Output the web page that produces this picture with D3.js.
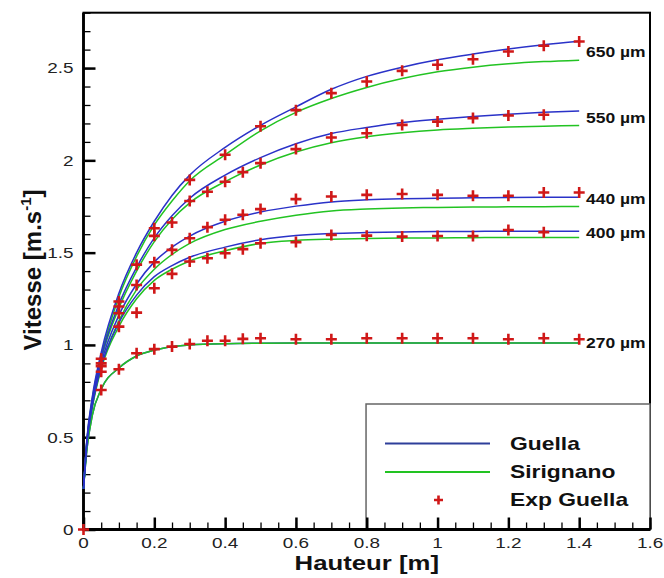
<!DOCTYPE html>
<html><head><meta charset="utf-8">
<script src="https://cdn.jsdelivr.net/npm/d3@7/dist/d3.min.js"></script>
<style>body{margin:0;background:#fff}svg{display:block}</style>
</head><body>
<svg id="chart" width="664" height="578"></svg>
<script>
// ---------- data ----------
const xTicks = [0, 0.2, 0.4, 0.6, 0.8, 1, 1.2, 1.4, 1.6];
const yTicks = [0, 0.5, 1, 1.5, 2, 2.5];
const sizes = ["650 µm", "550 µm", "440 µm", "400 µm", "270 µm"];
const labelPos = [2.59, 2.229, 1.789, 1.605, 1.009];

const modelX = [0, 0.01, 0.025, 0.05, 0.1, 0.15, 0.2, 0.25, 0.3, 0.4, 0.5, 0.6, 0.7, 0.8, 0.9, 1.0, 1.1, 1.2, 1.3, 1.4];
const guella650 = [0.22, 0.50, 0.72, 0.96, 1.28, 1.50, 1.67, 1.81, 1.92, 2.07, 2.19, 2.29, 2.385, 2.455, 2.505, 2.545, 2.576, 2.603, 2.626, 2.645];
const siri650   = [0.22, 0.49, 0.71, 0.94, 1.26, 1.48, 1.65, 1.78, 1.89, 2.03, 2.16, 2.26, 2.335, 2.395, 2.443, 2.48, 2.505, 2.523, 2.535, 2.543];
const guella550 = [0.22, 0.49, 0.70, 0.93, 1.22, 1.42, 1.58, 1.70, 1.795, 1.92, 2.015, 2.09, 2.145, 2.178, 2.205, 2.223, 2.238, 2.25, 2.26, 2.268];
const siri550   = [0.22, 0.48, 0.69, 0.92, 1.20, 1.40, 1.56, 1.68, 1.77, 1.885, 1.975, 2.045, 2.095, 2.128, 2.15, 2.165, 2.174, 2.181, 2.185, 2.189];
const guella440 = [0.22, 0.48, 0.68, 0.90, 1.16, 1.33, 1.45, 1.53, 1.59, 1.67, 1.72, 1.752, 1.775, 1.786, 1.792, 1.795, 1.797, 1.799, 1.80, 1.80];
const siri440   = [0.22, 0.47, 0.67, 0.88, 1.13, 1.30, 1.41, 1.49, 1.55, 1.625, 1.67, 1.703, 1.726, 1.736, 1.742, 1.745, 1.747, 1.748, 1.749, 1.75];
const guella400 = [0.22, 0.47, 0.67, 0.88, 1.12, 1.27, 1.37, 1.43, 1.475, 1.53, 1.57, 1.593, 1.604, 1.609, 1.612, 1.614, 1.615, 1.616, 1.616, 1.616];
const siri400   = [0.22, 0.46, 0.66, 0.87, 1.10, 1.25, 1.35, 1.41, 1.455, 1.51, 1.55, 1.566, 1.573, 1.577, 1.579, 1.58, 1.581, 1.582, 1.582, 1.582];
const guella270 = [0.22, 0.44, 0.62, 0.76, 0.875, 0.94, 0.972, 0.99, 1.0, 1.007, 1.009, 1.01, 1.01, 1.01, 1.01, 1.01, 1.01, 1.01, 1.01, 1.01];
const siri270   = [0.22, 0.44, 0.62, 0.76, 0.875, 0.94, 0.972, 0.99, 1.0, 1.007, 1.009, 1.01, 1.01, 1.01, 1.01, 1.01, 1.01, 1.01, 1.01, 1.01];

const exp650X = [0, 0.05, 0.1, 0.15, 0.2, 0.3, 0.4, 0.5, 0.6, 0.7, 0.8, 0.9, 1.0, 1.1, 1.2, 1.3, 1.4];
const exp650V = [0, 0.925, 1.235, 1.435, 1.632, 1.894, 2.03, 2.185, 2.272, 2.364, 2.427, 2.485, 2.518, 2.548, 2.59, 2.621, 2.644];
const exp550X = [0.05, 0.1, 0.2, 0.25, 0.3, 0.35, 0.4, 0.45, 0.5, 0.6, 0.7, 0.8, 0.9, 1.0, 1.1, 1.2, 1.3];
const exp550V = [0.90, 1.208, 1.591, 1.663, 1.78, 1.83, 1.884, 1.936, 1.985, 2.061, 2.124, 2.147, 2.192, 2.21, 2.229, 2.243, 2.247];
const exp440X = [0.05, 0.1, 0.15, 0.2, 0.25, 0.3, 0.35, 0.4, 0.45, 0.5, 0.6, 0.7, 0.8, 0.9, 1.0, 1.1, 1.2, 1.3, 1.4];
const exp440V = [0.885, 1.172, 1.325, 1.448, 1.515, 1.578, 1.638, 1.678, 1.705, 1.736, 1.79, 1.804, 1.813, 1.818, 1.813, 1.808, 1.808, 1.826, 1.826];
const exp400X = [0.05, 0.1, 0.15, 0.2, 0.25, 0.3, 0.35, 0.4, 0.45, 0.5, 0.6, 0.7, 0.8, 0.9, 1.0, 1.1, 1.2, 1.3];
const exp400V = [0.855, 1.099, 1.175, 1.307, 1.385, 1.452, 1.47, 1.497, 1.519, 1.551, 1.557, 1.596, 1.592, 1.587, 1.59, 1.59, 1.623, 1.611];
const exp270X = [0.05, 0.1, 0.15, 0.2, 0.25, 0.3, 0.35, 0.4, 0.45, 0.5, 0.6, 0.7, 0.8, 0.9, 1.0, 1.1, 1.2, 1.3, 1.4];
const exp270V = [0.756, 0.868, 0.955, 0.977, 0.991, 1.005, 1.023, 1.023, 1.033, 1.036, 1.031, 1.031, 1.036, 1.036, 1.036, 1.036, 1.031, 1.036, 1.031];

const legendNames = ["Guella", "Sirignano", "Exp Guella"];

// ---------- drawing ----------
const BLUE = "#2a32c8", GREEN = "#22c322", RED = "#d01818", LEGBLUE = "#2e3f9a";
const FONT = "'Liberation Sans', Arial, Helvetica, sans-serif";
const SX = 1.26;

const svg = d3.select("#chart");
const x = d3.scaleLinear().domain([0, 1.6]).range([83.5, 650]);
const y = d3.scaleLinear().domain([0, 2.8]).range([529.5, 12.7]);

function stext(parent, px, py, s, o) {
  return parent.append("text")
    .attr("transform", `translate(${px},${py}) scale(${o.sx || SX},1)`)
    .attr("text-anchor", o.anchor || "start")
    .attr("font-family", FONT)
    .attr("font-size", o.size)
    .attr("font-weight", o.weight || "normal")
    .attr("fill", o.fill || "#111")
    .attr("dy", o.dy || 0)
    .text(s);
}

// frame
svg.append("rect").attr("x", x(0)).attr("y", y(2.8)).attr("width", x(1.6) - x(0)).attr("height", y(0) - y(2.8))
  .attr("fill", "none").attr("stroke", "#000").attr("stroke-width", 2);

// legend box
svg.append("rect").attr("x", x(0.798)).attr("y", 404).attr("width", x(1.6) - x(0.798)).attr("height", y(0) - 404)
  .attr("fill", "#fff").attr("stroke", "#666").attr("stroke-width", 1.5);

// minor + major ticks (inward)
function ticks(axisFn, vals, size, w, tr) {
  svg.append("g").attr("transform", tr)
    .call(axisFn.tickValues(vals).tickSize(size).tickFormat(""))
    .call(g => g.select(".domain").remove())
    .call(g => g.selectAll("line").attr("stroke", "#000").attr("stroke-width", w));
}
ticks(d3.axisBottom(x), d3.range(0, 1.6001, 0.05), -7, 1.3, `translate(0,${y(0)})`);
ticks(d3.axisBottom(x), xTicks, -12, 2.5, `translate(0,${y(0)})`);
ticks(d3.axisLeft(y), d3.range(0, 2.8001, 0.1), -7, 1.3, `translate(${x(0)},0)`);
ticks(d3.axisLeft(y), yTicks, -12, 2.5, `translate(${x(0)},0)`);

// thick left/bottom axis lines
svg.append("line").attr("x1", x(0)).attr("x2", x(0)).attr("y1", y(2.8)).attr("y2", y(0) + 1).attr("stroke", "#000").attr("stroke-width", 2.8);
svg.append("line").attr("x1", x(0) - 1).attr("x2", x(1.6)).attr("y1", y(0)).attr("y2", y(0)).attr("stroke", "#000").attr("stroke-width", 2.8);

// tick labels
xTicks.forEach(t => stext(svg, x(t), 547.5, String(t), {size: 15, anchor: "middle", fill: "#222"}));
yTicks.forEach(t => stext(svg, 73.5, y(t), String(t), {size: 15, anchor: "end", dy: "0.36em", fill: "#222"}));

// axis titles
stext(svg, x(0.8), 570, "Hauteur [m]", {size: 19.5, weight: "bold", anchor: "middle", sx: 1.32});
const yl = svg.append("text")
  .attr("transform", `translate(41,270) rotate(-90)`)
  .attr("text-anchor", "middle").attr("font-family", FONT).attr("font-size", 24).attr("font-weight", "bold").attr("fill", "#111");
yl.append("tspan").text("Vitesse [m.s");
yl.append("tspan").attr("font-size", 15).attr("dy", -10).text("-1");
yl.append("tspan").attr("dy", 10).text("]");

// model curves
const line = d3.line().x(d => x(d[0])).y(d => y(d[1])).curve(d3.curveMonotoneX);
const zip = arr => modelX.map((v, i) => [v, arr[i]]);
const siri = [siri650, siri550, siri440, siri400];
const guella = [guella650, guella550, guella440, guella400];
const curves = svg.append("g").attr("fill", "none").attr("stroke-width", 1.5);
curves.append("path").attr("d", line(zip(guella270))).attr("stroke", BLUE);
curves.append("path").attr("d", line(zip(siri270))).attr("stroke", GREEN);
siri.forEach(s => curves.append("path").attr("d", line(zip(s))).attr("stroke", GREEN));
guella.forEach(s => curves.append("path").attr("d", line(zip(s))).attr("stroke", BLUE));

// experimental points
const expX = [exp650X, exp550X, exp440X, exp400X, exp270X];
const expV = [exp650V, exp550V, exp440V, exp400V, exp270V];
const plus = "M-5.5,0H5.5M0,-5.5V5.5";
const pts = svg.append("g").attr("stroke", RED).attr("stroke-width", 2.6).attr("fill", "none");
expX.forEach((xs, k) => xs.forEach((xv, i) => {
  pts.append("path").attr("d", plus).attr("transform", `translate(${x(xv)},${y(expV[k][i])})`);
}));

// size labels
sizes.forEach((s, i) => stext(svg, 586, y(labelPos[i]), s, {size: 14, weight: "bold", dy: "0.36em", sx: 1.25}));

// legend
svg.append("line").attr("x1", 385).attr("x2", 490).attr("y1", 443.5).attr("y2", 443.5).attr("stroke", LEGBLUE).attr("stroke-width", 1.8);
svg.append("line").attr("x1", 385).attr("x2", 490).attr("y1", 472).attr("y2", 472).attr("stroke", GREEN).attr("stroke-width", 1.8);
svg.append("path").attr("d", "M-4.5,0H4.5M0,-4.5V4.5").attr("transform", "translate(438.5,500)").attr("stroke", RED).attr("stroke-width", 2.6);
[450, 478, 506].forEach((by, i) => stext(svg, 510, by, legendNames[i], {size: 18, weight: "bold", sx: 1.27}));
</script>
</body></html>
